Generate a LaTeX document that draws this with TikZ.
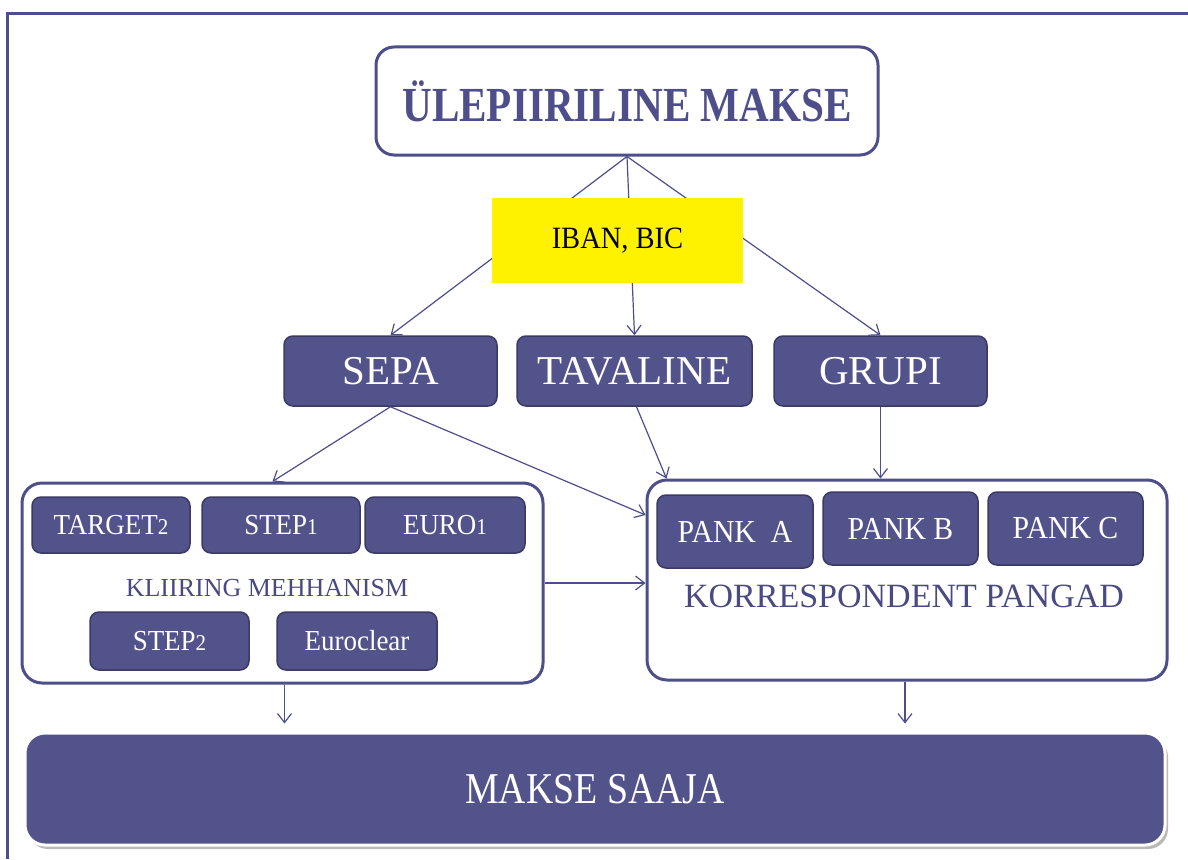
\documentclass[tikz,border=0pt]{standalone}
\usepackage{fontspec}
\setmainfont{Liberation Serif}
\usetikzlibrary{arrows.meta,shadows,calc}
\definecolor{framec}{RGB}{78,78,138}
\definecolor{boxc}{RGB}{83,83,139}
\definecolor{boxdark}{RGB}{58,58,100}
\definecolor{arrc}{RGB}{78,78,140}
\definecolor{txtc}{RGB}{74,74,130}
\newcommand\fs[1]{\fontsize{#1}{#1}\selectfont}
\newcommand\hsq[2]{\scalebox{#1}[1]{#2}}
\newcommand\osn[1]{\scalebox{0.78}{#1}}
\tikzset{
  bigbox/.style={draw=framec, line width=3pt, rounded corners=20pt, fill=white, inner sep=0pt},
  darkbox/.style={fill=boxc, draw=boxdark, line width=1.5pt, rounded corners=9pt, text=white, inner sep=0pt, align=center},
  arr/.style={-{Straight Barb[length=9pt,width=14pt]}, draw=arrc, line width=1.2pt},
  lbl/.style={text=txtc, inner sep=0pt}
}
\begin{document}
\begin{tikzpicture}[x=1pt,y=-1pt]
\useasboundingbox (0,0) rectangle (1188,859);
\fill[white] (0,0) rectangle (1188,859);
% outer frame (clipped at right and bottom)
\coordinate (fbl) at (7,859);
\coordinate (ftl) at (7,14);
\coordinate (ftr) at (1188,14);
\draw[framec, line width=3pt] (fbl) -- (ftl) -- (ftr);

% top box
\node[bigbox, rounded corners=18pt, minimum width=502pt, minimum height=108pt, text=framec] (top) at (627,101)
  {\fs{49}\bfseries\hsq{0.84}{ÜLEPIIRILINE MAKSE}};

% SEPA / TAVALINE / GRUPI
\node[darkbox, minimum width=213pt, minimum height=70pt] (sepa) at (390.5,371) {\fs{41}SEPA};
\node[darkbox, minimum width=235pt, minimum height=70pt] (tav) at (634.5,371) {\fs{41}TAVALINE};
\node[darkbox, minimum width=213pt, minimum height=70pt] (grupi) at (880.5,371) {\fs{41}GRUPI};

\draw[arr] (top.south) -- (sepa.north);
\draw[arr] (top.south) -- (tav.north);
\draw[arr] (top.south) -- (grupi.north);

% IBAN, BIC (drawn over the connectors)
\node[fill=yellow, minimum width=251pt, minimum height=85pt, inner sep=0pt] (iban) at (617.5,240.5)
  {\fs{31}\hsq{0.92}{IBAN, BIC}};

% left container
\node[bigbox, minimum width=521pt, minimum height=200pt] (kl) at (282.5,583) {};
\node[darkbox, minimum width=158pt, minimum height=56pt] (target) at (111,525) {\fs{29}\hsq{0.93}{TARGET\osn{2}}};
\node[darkbox, minimum width=158pt, minimum height=56pt] (step1) at (281,525) {\fs{29}\hsq{0.93}{STEP\osn{1}}};
\node[darkbox, minimum width=160pt, minimum height=56pt] (euro1) at (445,525) {\fs{29}\hsq{0.93}{EURO\osn{1}}};
\node[lbl] (kltext) at (267,588) {\fs{26}KLIIRING MEHHANISM};
\node[darkbox, minimum width=159pt, minimum height=58pt] (step2) at (169.5,641) {\fs{29}\hsq{0.93}{STEP\osn{2}}};
\node[darkbox, minimum width=160pt, minimum height=58pt] (euroclear) at (357,641) {\fs{29}\hsq{0.93}{Euroclear}};

% right container
\node[bigbox, minimum width=520pt, minimum height=200pt] (kp) at (907,580) {};
\node[darkbox, minimum width=156pt, minimum height=73pt] (panka) at (735,531.5) {\fs{32}\hsq{0.93}{PANK\ \ A}};
\node[darkbox, minimum width=155pt, minimum height=73pt] (pankb) at (900.5,528.5) {\fs{32}\hsq{0.93}{PANK B}};
\node[darkbox, minimum width=155pt, minimum height=73pt] (pankc) at (1065.5,528.5) {\fs{32}\hsq{0.93}{PANK C}};
\node[lbl] (kptext) at (904,596) {\fs{34}KORRESPONDENT PANGAD};

% connectors to containers
\draw[arr] (sepa.south) -- ([xshift=-10pt]kl.north);
\draw[arr] (sepa.south) -- ([yshift=65pt]kp.west);
\draw[arr] ([xshift=2pt]tav.south) -- ([xshift=21pt]kp.north west);
\draw[arr] (grupi.south) -- (grupi.south |- kp.north);
\draw[arr] (kl.east) -- (kl.east -| kp.west);

% receiver
\node[fill=boxc, draw=white, line width=3pt, rounded corners=20pt, minimum width=1140pt, minimum height=112pt,
      text=white, inner sep=0pt,
      drop shadow={shadow xshift=3pt, shadow yshift=-4pt, fill=gray!55, opacity=1}] (saaja) at (595,789)
  {\fs{44}\hsq{0.86}{MAKSE SAAJA}};

\draw[arr, shorten >=8pt] ([xshift=2pt]kl.south) -- ([xshift=2pt]kl.south |- saaja.north);
\draw[arr, shorten >=8pt] ([xshift=-2pt]kp.south) -- ([xshift=-2pt]kp.south |- saaja.north);
\end{tikzpicture}
\end{document}
